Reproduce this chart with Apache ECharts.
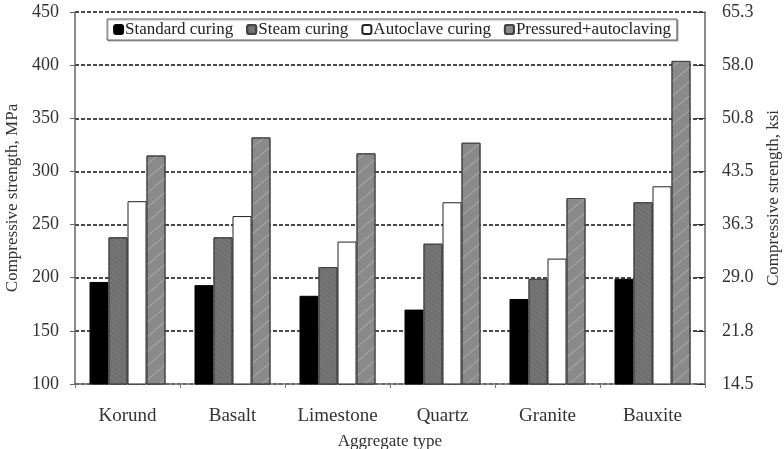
<!DOCTYPE html>
<html><head><meta charset="utf-8">
<script src="https://cdn.jsdelivr.net/npm/echarts@6/dist/echarts.min.js"></script>
<style>html,body{margin:0;padding:0;background:#fff}#c{width:784px;height:449px}</style>
</head><body><div id="c"></div>
<script>
const categories = ['Korund','Basalt','Limestone','Quartz','Granite','Bauxite'];
const standardCuring = [196, 193, 183, 170, 180, 199];
const steamCuring = [238, 238, 210, 232, 199, 271];
const autoclaveCuring = [272, 258, 234, 271, 218, 286];
const pressuredAutoclaving = [315, 332, 317, 327, 275, 404];
const ksiLabels = ['14.5','21.8','29.0','36.3','43.5','50.8','58.0','65.3'];
const seriesNames = ['Standard curing','Steam curing','Autoclave curing','Pressured+autoclaving'];

const font = 'Liberation Serif';
const chart = echarts.init(document.getElementById('c'));
const mk = (name, data, color, border, decal) => ({
  name, type: 'bar', data, barWidth: 19, barGap: '0%',
  itemStyle: Object.assign({color, borderColor: border, borderWidth: 1}, decal ? {decal} : {})
});
chart.setOption({
  backgroundColor: '#fff',
  animation: false,
  grid: {left: 75, right: 79, top: 12, bottom: 65, outerBoundsMode: 'none', containLabel: false},
  legend: {
    top: 19, left: 'center',
    itemWidth: 9, itemHeight: 9, itemGap: 13,
    padding: [2, 6, 2, 6],
    borderColor: '#666', borderWidth: 1,
    shadowColor: 'rgba(0,0,0,0.3)', shadowOffsetX: 1, shadowOffsetY: 1, shadowBlur: 1,
    backgroundColor: '#fff',
    textStyle: {fontFamily: font, fontSize: 17, color: '#222', padding: [0,0,0,-3]},
    data: seriesNames
  },
  xAxis: {
    type: 'category', data: categories,
    name: 'Aggregate type', nameLocation: 'middle', nameGap: 49,
    nameTextStyle: {fontFamily: font, fontSize: 17, color: '#333'},
    axisLine: {lineStyle: {color: '#777', width: 1.5}},
    axisTick: {show: true, length: 4, lineStyle: {color: '#777'}},
    axisLabel: {fontFamily: font, fontSize: 19, color: '#333', margin: 23, interval: 0, hideOverlap: false}
  },
  yAxis: [{
    type: 'value', min: 100, max: 450, interval: 50,
    name: 'Compressive strength, MPa', nameLocation: 'middle', nameGap: 54, nameRotate: 90,
    nameTextStyle: {fontFamily: font, fontSize: 17, color: '#333'},
    axisLine: {show: true, lineStyle: {color: '#666', width: 1.5}},
    axisTick: {show: true, length: 5, lineStyle: {color: '#666'}},
    axisLabel: {fontFamily: font, fontSize: 18, color: '#333', margin: 16},
    splitLine: {show: true, lineStyle: {color: '#111', type: [4, 2], width: 1.5}}
  }, {
    type: 'value', min: 100, max: 450, interval: 50, position: 'right',
    name: 'Compressive strength, ksi', nameLocation: 'middle', nameGap: 60, nameRotate: 90,
    nameTextStyle: {fontFamily: font, fontSize: 17, color: '#333'},
    axisLine: {show: true, lineStyle: {color: '#666', width: 1.5}},
    axisTick: {show: true, inside: true, length: 8, lineStyle: {color: '#333'}},
    axisLabel: {fontFamily: font, fontSize: 18, color: '#333', margin: 17,
      formatter: (v) => ksiLabels[Math.round((v - 100) / 50)]},
    splitLine: {show: false}
  }],
  series: [
    mk(seriesNames[0], standardCuring, '#000', '#000'),
    mk(seriesNames[1], steamCuring, '#6e6e6e', '#444',
      {symbol: 'circle', symbolSize: 0.5, dashArrayX: [2, 1], dashArrayY: [2, 2], color: 'rgba(220,220,220,0.55)', rotation: 0.6}),
    mk(seriesNames[2], autoclaveCuring, '#fff', '#222'),
    mk(seriesNames[3], pressuredAutoclaving, '#8a8a8a', '#444',
      {symbol: 'rect', dashArrayX: [1, 0], dashArrayY: [1, 10], color: 'rgba(220,220,220,0.35)', rotation: -0.7})
  ]
});
</script></body></html>
